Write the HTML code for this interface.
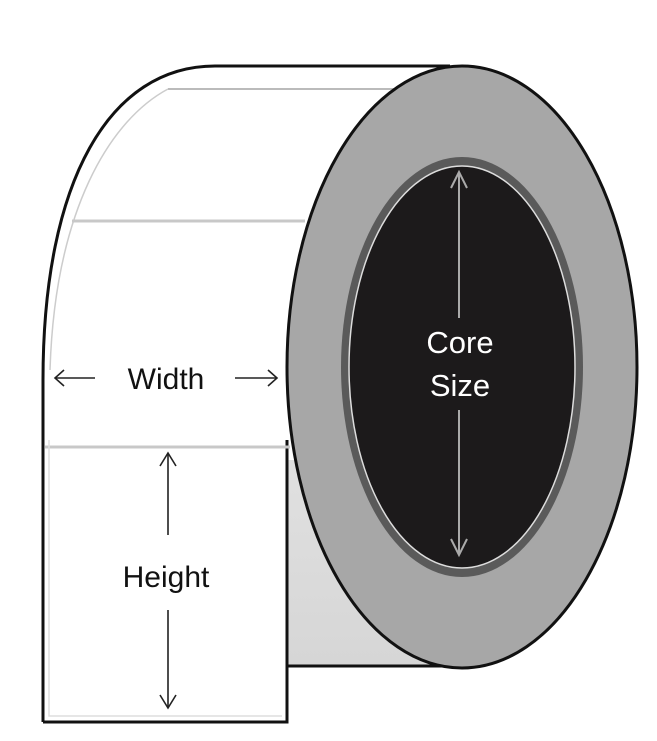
<!DOCTYPE html>
<html><head><style>html,body{margin:0;padding:0;background:#fff;}svg{display:block}</style></head>
<body>
<svg width="657" height="741" viewBox="0 0 657 741" xmlns="http://www.w3.org/2000/svg">
<defs>
<linearGradient id="g1" x1="0" y1="0" x2="0" y2="1">
<stop offset="0" stop-color="#fff"/><stop offset="0.35" stop-color="#fff"/><stop offset="0.6" stop-color="#e2e2e2"/><stop offset="1" stop-color="#d6d6d6"/>
</linearGradient>
</defs>
<!-- roll body (behind label) -->
<path d="M287,666 L470,666 L470,66 L287,66 Z" fill="url(#g1)"/>
<path d="M287,666 L470,666" stroke="#111" stroke-width="3"/>
<!-- roll top -->
<path d="M43,722 L43,380 C43,180 110,66 215,66 L450,66 L450,460 L287,460 L287,722 Z" fill="#fff"/>
<path d="M43,722 L43,380 C43,180 110,66 215,66 L450,66" fill="none" stroke="#111" stroke-width="3"/>
<path d="M43,722 L287,722 L287,440" fill="none" stroke="#111" stroke-width="3"/>
<!-- label separation lines -->
<path d="M168,89 L420,89" stroke="#bbb" stroke-width="2"/>
<path d="M50,370 C55,210 110,120 168,89" fill="none" stroke="#ccc" stroke-width="1.5"/>
<path d="M72,221 L305,221" stroke="#c8c8c8" stroke-width="3"/>
<path d="M45,447 L290,447" stroke="#c8c8c8" stroke-width="3"/>
<path d="M49,440 L49,716 L282,716" fill="none" stroke="#ddd" stroke-width="1.5"/>
<!-- disc -->
<ellipse cx="462" cy="367" rx="175" ry="301" fill="#a7a7a7" stroke="#111" stroke-width="3"/>
<ellipse cx="462" cy="367" rx="121" ry="210" fill="#5a5a5a"/>
<ellipse cx="462" cy="367" rx="113" ry="201" fill="#1c1a1b" stroke="#ddd" stroke-width="1.5"/>
<!-- core arrow -->
<g stroke="#aaa" stroke-width="2" fill="none">
<path d="M459,172 L459,318"/><path d="M459,410 L459,555"/>
<path d="M451,188 L459,172 L467,188"/><path d="M451,539 L459,555 L467,539"/>
</g>
<text x="460" y="353" font-family="Liberation Sans, sans-serif" font-size="31" fill="#fff" text-anchor="middle">Core</text>
<text x="460" y="396" font-family="Liberation Sans, sans-serif" font-size="31" fill="#fff" text-anchor="middle">Size</text>
<!-- width arrows -->
<g stroke="#222" stroke-width="1.6" fill="none">
<path d="M55,378 L95,378"/><path d="M64,370 L55,378 L64,386"/>
<path d="M235,378 L277,378"/><path d="M268,370 L277,378 L268,386"/>
<path d="M168,453 L168,535"/><path d="M160,466 L168,453 L176,466"/>
<path d="M168,610 L168,708"/><path d="M160,695 L168,708 L176,695"/>
</g>
<text x="166" y="389" font-family="Liberation Sans, sans-serif" font-size="30" fill="#111" text-anchor="middle">Width</text>
<text x="166" y="587" font-family="Liberation Sans, sans-serif" font-size="30" fill="#111" text-anchor="middle">Height</text>
</svg>
</body></html>
